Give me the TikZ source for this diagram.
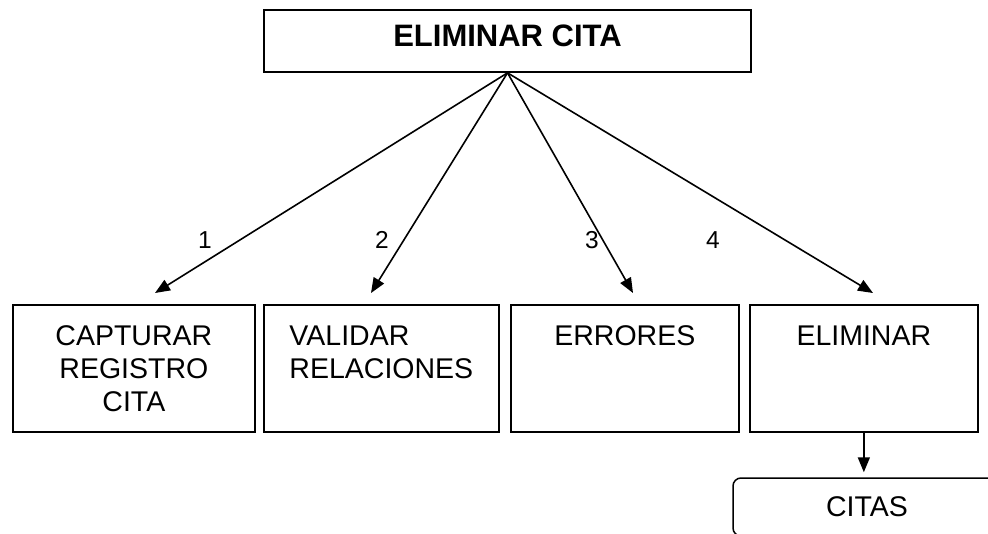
\documentclass[tikz,border=0pt]{standalone}
\usepackage{fontspec}
\setmainfont{Liberation Sans}
\usetikzlibrary{arrows.meta, positioning, calc}

\begin{document}
\begin{tikzpicture}[x=1pt, y=-1pt,
    box/.style={draw, line width=1.7pt, inner sep=0pt, anchor=north west,
                minimum height=127pt, font=\fontsize{28.5}{33}\selectfont},
    flow/.style={-{Triangle[length=15pt, width=12pt]}, line width=1.6pt},
    num/.style={font=\fontsize{24.5}{28}\selectfont}]
  \useasboundingbox (0,0) rectangle (988,533);
  \clip (0,0) rectangle (988,533);

  % top process
  \node[draw, line width=1.7pt, minimum width=487pt, minimum height=62pt, inner sep=0pt,
        text depth=10pt, font=\bfseries\fontsize{31}{36}\selectfont]
        (top) at (507.5,41) {ELIMINAR CITA};

  % sub processes
  \node[box, minimum width=242pt, align=center] (captura) at (12,304) {CAPTURAR\\REGISTRO\\CITA};
  \node[box, minimum width=235pt, align=left]   (valida)  at (263,304) {VALIDAR\\RELACIONES\\\mbox{}};
  \node[box, minimum width=228pt, align=center] (errores) at (510,304) {ERRORES\\\mbox{}\\\mbox{}};
  \node[box, minimum width=228pt, align=center] (elimina) at (749,304) {ELIMINAR\\\mbox{}\\\mbox{}};

  % data store
  \node[draw, line width=1.5pt, rounded corners=8pt, minimum width=268pt, minimum height=58pt,
        inner sep=0pt, font=\fontsize{28.5}{33}\selectfont] (citas) at (867,507) {CITAS};

  \coordinate (t1) at (155,293);
  \coordinate (t2) at (371,293);
  \coordinate (t3) at (633,293);
  \coordinate (t4) at (873,293);
  \foreach \t in {1,...,4}
    \draw[flow] (top.south) -- (t\t);

  \node[num] (n1) at (205,240) {1};
  \node[num] (n2) at (382,240) {2};
  \node[num] (n3) at (592,240) {3};
  \node[num] (n4) at (713,240) {4};

  \draw[flow, shorten >=5pt] (elimina.south) -- (elimina.south |- citas.north);
\end{tikzpicture}
\end{document}
